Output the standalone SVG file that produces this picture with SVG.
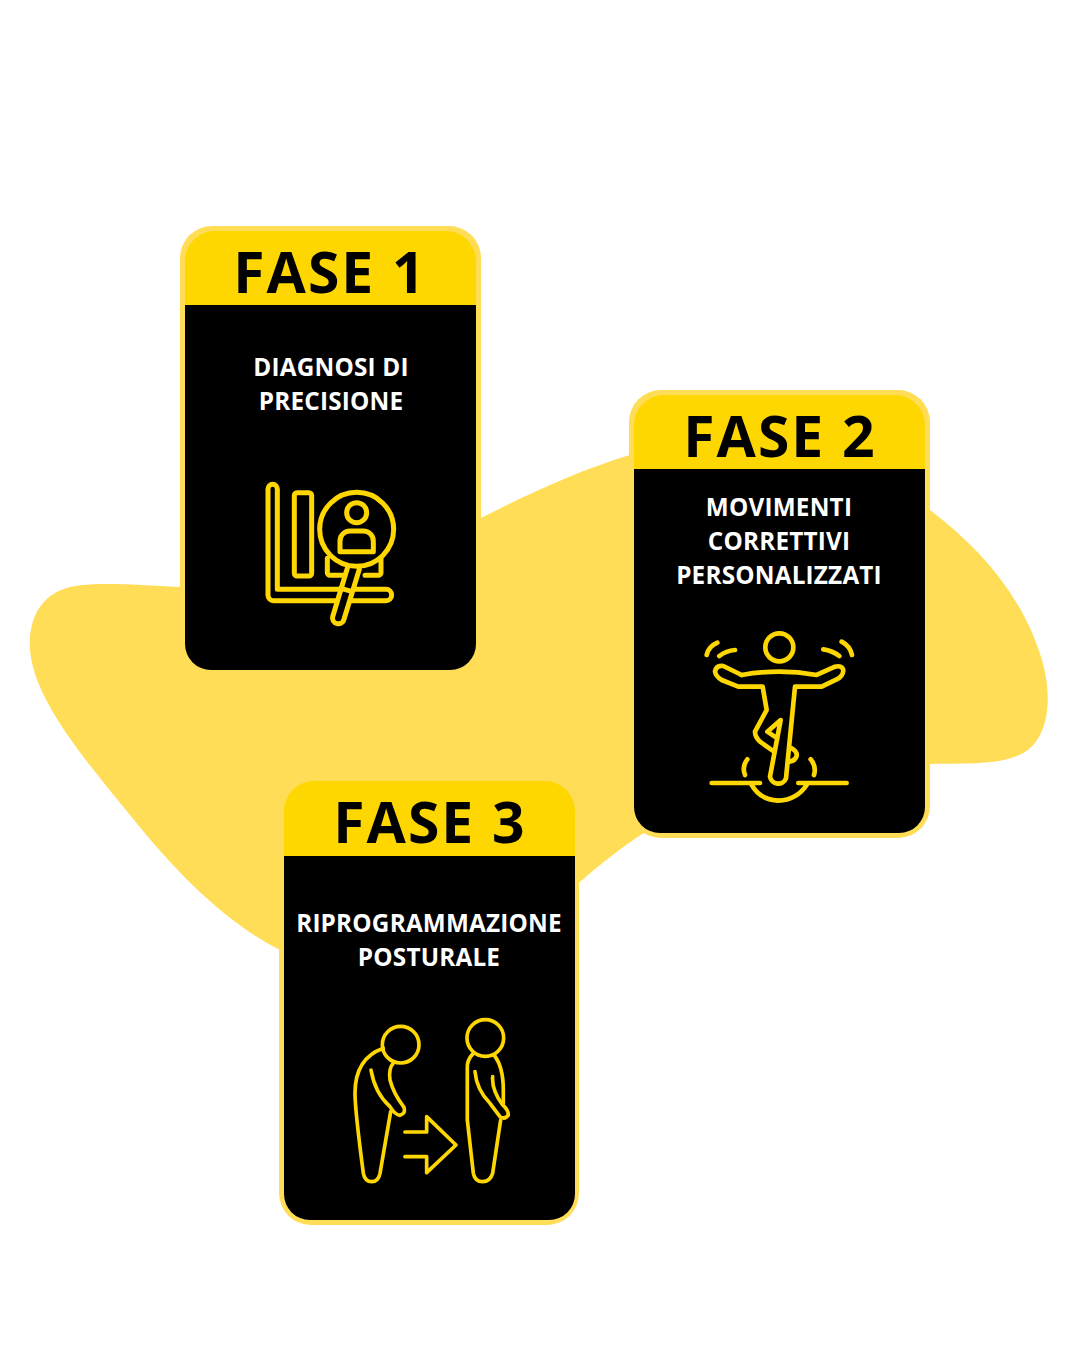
<svg xmlns="http://www.w3.org/2000/svg" width="1080" height="1350" viewBox="0 0 1080 1350">
<style>
.h{font-family:"Open Sans","Liberation Sans",sans-serif;font-weight:700;font-size:57px;letter-spacing:2px;fill:#000;text-anchor:middle}
.t{font-family:"Open Sans","Liberation Sans",sans-serif;font-weight:700;font-size:24.3px;letter-spacing:.2px;fill:#fff;text-anchor:middle}
.i{fill:none;stroke:#FFD700;stroke-linecap:round;stroke-linejoin:round;stroke-width:14}
.b{fill:#FFDD57}
.y{fill:#FFD700}
</style>
<rect width="1080" height="1350" fill="#fff"/>
<path id="blob" class="b" d="M180 587C140 585 100 582 75 586C40 592 28 620 30 650C34 700 85 760 130 815C180 878 230 925 280 950L580 882C600 864 625 845 645 832L930 764C965 763 1005 766 1028 750C1050 732 1052 695 1042 660C1024 600 985 552 930 510L630 455C580 470 530 493 481 518Z"/>
<g id="card1">
<rect class="b" x="180" y="226" width="301" height="449" rx="32"/>
<path class="y" d="M185 305V261a30 30 0 0 1 30-30H446a30 30 0 0 1 30 30V305Z"/>
<path d="M185 305H476V644a26 26 0 0 1-26 26H211a26 26 0 0 1-26-26Z"/>
<text class="h" x="330" y="293">FASE 1</text>
<text class="t" x="331" y="376">DIAGNOSI DI</text>
<text class="t" x="331" y="410">PRECISIONE</text>
<g class="i" style="stroke-width:15" transform="translate(250 470) scale(.3333)">
<path d="M54 57a14 14 0 0 1 28 0V358H408a17 17 0 0 1 0 34H70a16 16 0 0 1-16-16Z"/>
<rect x="133" y="68" width="52" height="250" rx="8"/>
<path d="M232 265V308a8 8 0 0 0 8 8H280M345 316H385a8 8 0 0 0 8-8V265"/>
<path fill="#000" d="M292 295L248 440a17 17 0 0 0 34 8L328 298"/>
<path d="M272 355L305 364"/>
<circle cx="320" cy="178" r="111"/>
<circle cx="320" cy="128" r="30"/>
<path d="M270 245V215a30 30 0 0 1 30-32H340a30 30 0 0 1 30 32V245Z"/>
</g>
</g>
<g id="card2">
<rect class="b" x="629" y="390" width="301" height="448" rx="32"/>
<path class="y" d="M634 469V425a30 30 0 0 1 30-30H895a30 30 0 0 1 30 30V469Z"/>
<path d="M634 469H925V807a26 26 0 0 1-26 26H660a26 26 0 0 1-26-26Z"/>
<text class="h" x="780" y="457">FASE 2</text>
<text class="t" x="779" y="516">MOVIMENTI</text>
<text class="t" x="779" y="550">CORRETTIVI</text>
<text class="t" x="779" y="584">PERSONALIZZATI</text>
<g class="i" transform="translate(690 620) scale(.3333)">
<circle cx="268" cy="82" r="42"/>
<path d="M82 68Q55 80 50 105M88 108Q108 92 135 90M400 88Q428 92 448 108M455 65Q480 78 486 105"/>
<path d="M155 165Q268 145 380 165L435 140Q458 135 460 152Q458 170 440 178L395 200H315L288 475a25 25 0 0 1-48-5L272 300L232 335L262 355"/>
<path d="M155 165L100 138Q78 135 75 155Q78 170 95 180L145 200H218L230 270L195 335Q195 350 210 365L248 392"/>
<path d="M305 385Q322 395 320 408Q316 422 298 425"/>
<path d="M65 489H210M325 489H470M185 495Q210 540 265 542Q320 540 350 495M172 418Q155 440 165 465M362 418Q380 440 372 465"/>
</g>
</g>
<g id="card3">
<rect class="b" x="279" y="781" width="300" height="444" rx="32"/>
<path class="y" d="M284 856V811a30 30 0 0 1 30-30H545a30 30 0 0 1 30 30V856Z"/>
<path d="M284 856H575V1194a26 26 0 0 1-26 26H310a26 26 0 0 1-26-26Z"/>
<text class="h" x="430" y="843">FASE 3</text>
<text class="t" x="429" y="932">RIPROGRAMMAZIONE</text>
<text class="t" x="429" y="966">POSTURALE</text>
<g class="i" style="stroke-width:11" transform="translate(340 1010) scale(.3333)">
<circle cx="182" cy="104" r="55"/>
<circle cx="436" cy="84" r="55"/>
<path d="M130 115Q45 145 45 250Q45 300 70 490Q75 515 95 515Q115 515 120 490L152 305"/>
<path d="M160 160Q145 175 150 210Q160 250 192 292Q198 310 180 316Q165 315 150 290Q105 250 93 180"/>
<path d="M400 130Q380 150 382 175V330L400 490Q405 515 428 515Q450 515 458 490L482 330"/>
<path d="M462 135Q490 170 490 240V280"/>
<path d="M405 185Q410 240 450 280L480 320Q495 330 505 315Q505 300 488 285Q455 240 458 200"/>
<path d="M195 366H260V320L348 405L260 488V440H195"/>
</g>
</g>
</svg>
